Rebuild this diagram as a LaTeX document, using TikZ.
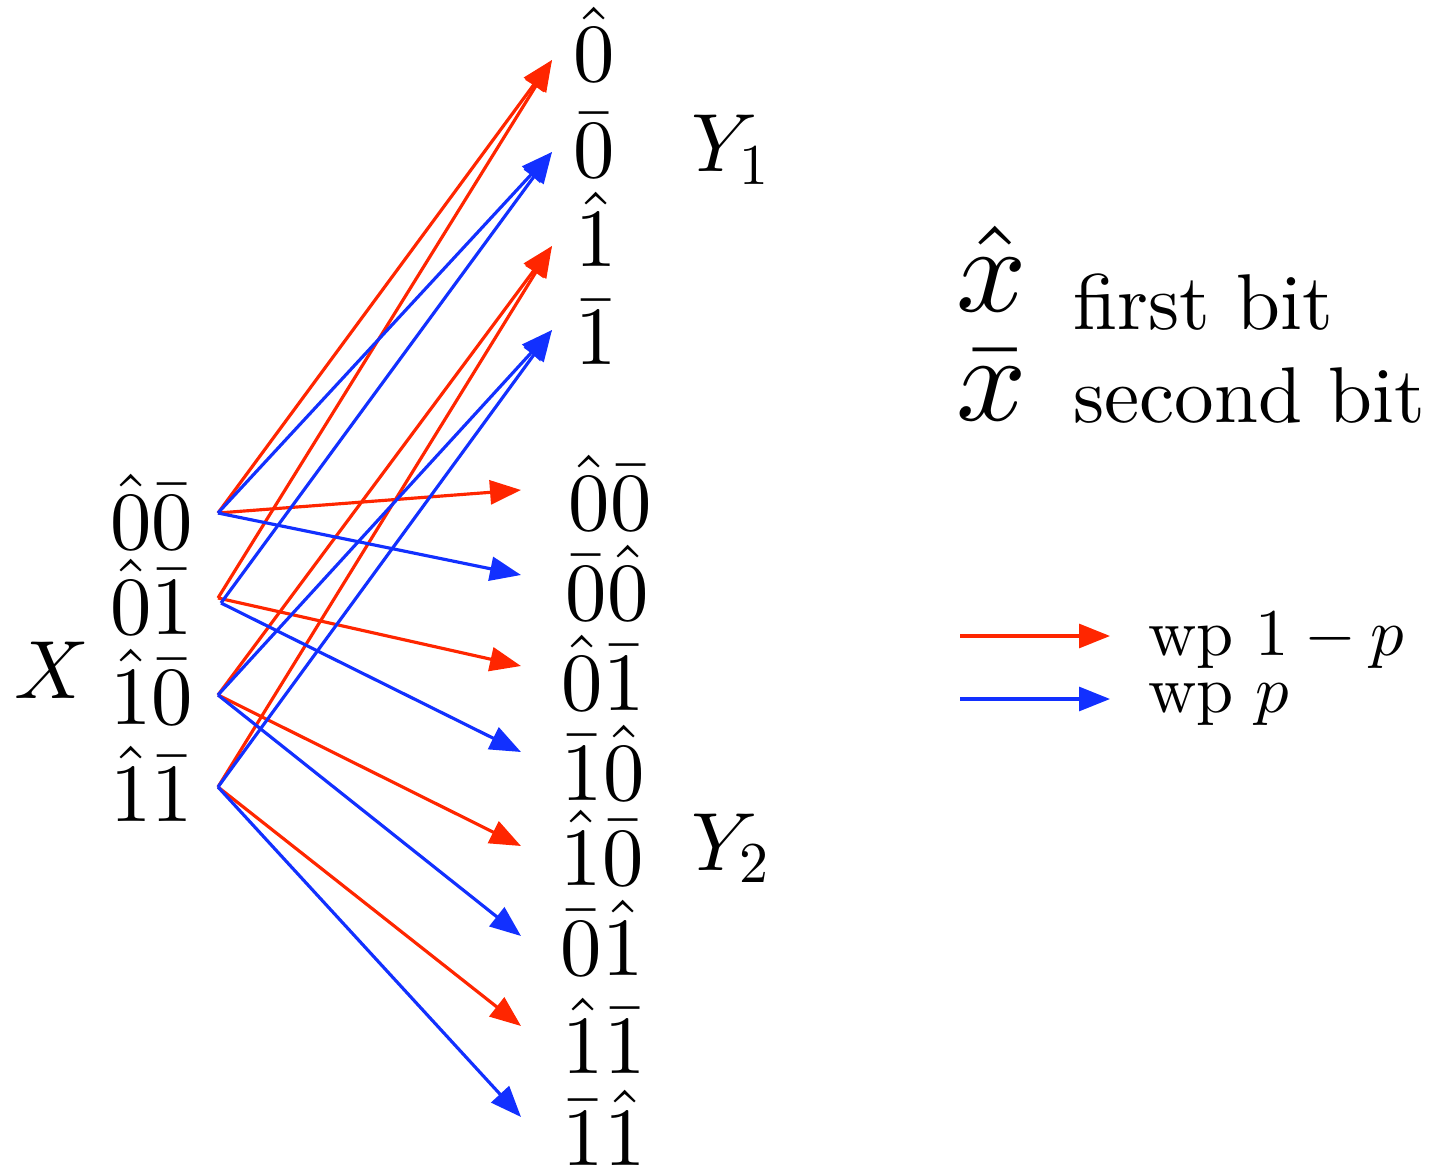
\documentclass[tikz,border=0pt]{standalone}
\usepackage[no-math]{fontspec}
\setmainfont{lmroman10-regular.otf}
\DeclareFontShape{OT1}{cmr}{m}{n}{<-> cmr10}{}
\DeclareFontShape{OML}{cmm}{m}{it}{<-> cmmi10}{}
\DeclareFontShape{OMS}{cmsy}{m}{n}{<-> cmsy10}{}
\DeclareFontShape{OMX}{cmex}{m}{n}{<-> cmex10}{}
\usetikzlibrary{arrows.meta}
\definecolor{cred}{RGB}{255,38,0}
\definecolor{cblue}{RGB}{18,48,255}
\tikzset{
  lbl/.style={inner sep=0pt, anchor=base, font=\fontsize{47}{56}\selectfont},
  lblw/.style={inner sep=0pt, anchor=base west, font=\fontsize{47}{56}\selectfont},
  txt/.style={inner sep=0pt, anchor=base west, font=\fontsize{45}{54}\selectfont},
  leg/.style={inner sep=0pt, anchor=base west, font=\fontsize{38}{46}\selectfont},
  big/.style={inner sep=0pt, anchor=base west, font=\fontsize{70}{84}\selectfont},
  edge/.style={line width=1.8pt, -{Triangle[length=0.62cm,width=0.48cm]}},
  redge/.style={edge, cred},
  bedge/.style={edge, cblue}
}
\begin{document}
\begin{tikzpicture}[x=0.02cm,y=-0.02cm]
\useasboundingbox (0,0) rectangle (1438,1169);

% source labels
\node[lblw] (X) at (14,698) {$X$};
\node[lblw] (x00) at (110,549) {$\hat{0}\bar{0}$};
\node[lblw] (x01) at (110,634) {$\hat{0}\bar{1}$};
\node[lblw] (x10) at (110,724) {$\hat{1}\bar{0}$};
\node[lblw] (x11) at (110,821) {$\hat{1}\bar{1}$};

% Y1 labels
\node[lbl] (y0h) at (594,82) {$\hat{0}$};
\node[lbl] (y0b) at (594,178) {$\bar{0}$};
\node[lbl] (y1h) at (596,267) {$\hat{1}$};
\node[lbl] (y1b) at (596,365) {$\bar{1}$};
\node[lblw] (Y1) at (691,172) {$Y_1$};

% Y2 labels
\node[lbl] (z1) at (610,530) {$\hat{0}\bar{0}$};
\node[lbl] (z2) at (607,620) {$\bar{0}\hat{0}$};
\node[lbl] (z3) at (603,710) {$\hat{0}\bar{1}$};
\node[lbl] (z4) at (603,800) {$\bar{1}\hat{0}$};
\node[lbl] (z5) at (602,885) {$\hat{1}\bar{0}$};
\node[lbl] (z6) at (602,975) {$\bar{0}\hat{1}$};
\node[lbl] (z7) at (604,1073) {$\hat{1}\bar{1}$};
\node[lbl] (z8) at (604,1165) {$\bar{1}\hat{1}$};
\node[lblw] (Y2) at (691,870) {$Y_2$};

% legend text
\node[big] (xh) at (956,312) {$\hat{x}$};
\node[txt] (fb) at (1073,330) {first bit};
\node[big] (xb) at (956,420) {$\bar{x}$};
\node[txt] (sb) at (1073,422) {second bit};
\node[leg] (w1) at (1148,655) {wp $1-p$};
\node[leg] (w2) at (1148,712) {wp $p$};

% coordinates
\coordinate (s00) at (218,513);
\coordinate (s01r) at (218,598);
\coordinate (s01b) at (221,603);
\coordinate (s10) at (218,695);
\coordinate (s11) at (218,787);

\coordinate (t0h) at (552,60);
\coordinate (t0b) at (552,152);
\coordinate (t1h) at (552,246);
\coordinate (t1b) at (552,330);

\coordinate (u1) at (521,490);
\coordinate (u2) at (521,575);
\coordinate (u3) at (521,666);
\coordinate (u4) at (521,752);
\coordinate (u5) at (521,846);
\coordinate (u6) at (521,936);
\coordinate (u7) at (521,1026);
\coordinate (u8) at (521,1117);

\coordinate (la1) at (960,636);
\coordinate (lb1) at (1110,636);
\coordinate (la2) at (960,699);
\coordinate (lb2) at (1110,699);

% red edges
\draw[redge] (s00) -- (t0h);
\draw[redge] (s01r) -- (t0h);
\draw[redge] (s10) -- (t1h);
\draw[redge] (s11) -- (t1h);
\draw[redge] (s00) -- (u1);
\draw[redge] (s01r) -- (u3);
\draw[redge] (s10) -- (u5);
\draw[redge] (s11) -- (u7);

% blue edges
\draw[bedge] (s00) -- (t0b);
\draw[bedge] (s01b) -- (t0b);
\draw[bedge] (s10) -- (t1b);
\draw[bedge] (s11) -- (t1b);
\draw[bedge] (s00) -- (u2);
\draw[bedge] (s01b) -- (u4);
\draw[bedge] (s10) -- (u6);
\draw[bedge] (s11) -- (u8);

% legend arrows
\draw[redge] (la1) -- (lb1);
\draw[bedge] (la2) -- (lb2);
\end{tikzpicture}
\end{document}
